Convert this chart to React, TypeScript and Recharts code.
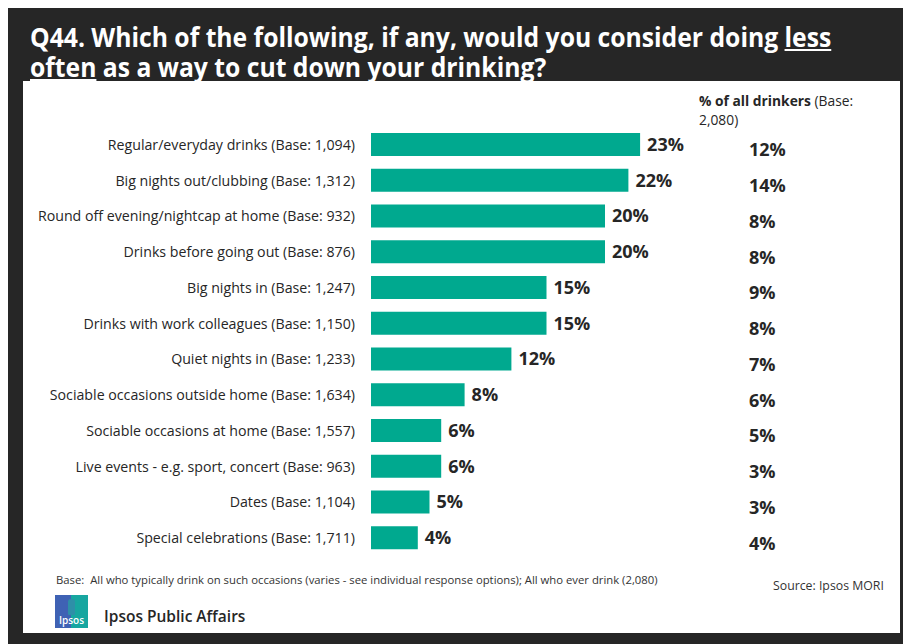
import { BarChart, Bar, XAxis, YAxis, LabelList } from "recharts";

const CATEGORIES = [
    "Regular/everyday drinks (Base: 1,094)",
    "Big nights out/clubbing (Base: 1,312)",
    "Round off evening/nightcap at home (Base: 932)",
    "Drinks before going out (Base: 876)",
    "Big nights in (Base: 1,247)",
    "Drinks with work colleagues (Base: 1,150)",
    "Quiet nights in (Base: 1,233)",
    "Sociable occasions outside home (Base: 1,634)",
    "Sociable occasions at home (Base: 1,557)",
    "Live events - e.g. sport, concert (Base: 963)",
    "Dates (Base: 1,104)",
    "Special celebrations (Base: 1,711)",
]
const LESS_OFTEN = [23, 22, 20, 20, 15, 15, 12, 8, 6, 6, 5, 4]
const ALL_DRINKERS = [12, 14, 8, 8, 9, 8, 7, 6, 5, 3, 3, 4]

const TEAL = "#00A98F"
const FONT = "'Open Sans', 'Noto Sans', sans-serif"

const data = CATEGORIES.map((name, i) => ({ name, value: LESS_OFTEN[i], all: ALL_DRINKERS[i] }))

export default function App() {
    return (
        <div style={{ position: 'fixed', left: 8, top: 8, right: 0, bottom: 0, background: '#262626', overflow: 'hidden', fontFamily: FONT }}>
            <div style={{
                position: 'absolute', left: 22, top: 14, color: '#fff', fontSize: 26, fontWeight: 700,
                lineHeight: '30px', whiteSpace: 'nowrap', transform: 'scaleX(0.95)', transformOrigin: 'left top'
            }}>
                <div>Q44. Which of the following, if any, would you consider doing <u>less</u></div>
                <div><u>often</u> as a way to cut down your drinking?</div>
            </div>
            <div style={{ position: 'absolute', left: 15, top: 73, width: 877, height: 552, background: '#fff' }}>
                <BarChart width={877} height={552} layout="vertical" data={data}
                    margin={{ top: 46, right: 0, bottom: 77, left: 0 }}>
                    <XAxis type="number" domain={[0, 30]} hide />
                    <YAxis yAxisId="left" type="category" dataKey="name" width={348}
                        axisLine={false} tickLine={false} tickMargin={10} interval={0}
                        tick={{ fontSize: 14.2, fill: '#262626', fontFamily: FONT }} />
                    <YAxis yAxisId="right" orientation="right" type="category" dataKey="name" width={178}
                        axisLine={false} tickLine={false} tickMargin={21} interval={0}
                        tickFormatter={(v: string) => `${data.find(d => d.name === v)?.all}%`}
                        tick={{ fontSize: 18, fontWeight: 700, fill: '#262626', fontFamily: FONT, dy: 5 }} />
                    <Bar yAxisId="left" dataKey="value" fill={TEAL} barSize={23} isAnimationActive={false}>
                        <LabelList dataKey="value" position="right" offset={7}
                            formatter={(v: any) => `${v}%`}
                            style={{ fontSize: 18, fontWeight: 700, fill: '#262626', fontFamily: FONT }} />
                    </Bar>
                </BarChart>
                <div style={{ position: 'absolute', left: 676, top: 10, fontSize: 13.8, lineHeight: '19px', color: '#262626', whiteSpace: 'nowrap' }}>
                    <div><b>% of all drinkers</b> (Base:</div>
                    <div>2,080)</div>
                </div>
                <div style={{ position: 'absolute', left: 33, top: 491, fontSize: 11.3, lineHeight: '15px', color: '#333', whiteSpace: 'nowrap' }}>
                    Base:&nbsp; All who typically drink on such occasions (varies - see individual response options); All who ever drink (2,080)
                </div>
                <div style={{ position: 'absolute', left: 750, top: 497, fontSize: 12.3, lineHeight: '16px', color: '#333', whiteSpace: 'nowrap' }}>
                    Source: Ipsos MORI
                </div>
                <div style={{
                    position: 'absolute', left: 32, top: 514, width: 33, height: 33,
                    background: 'linear-gradient(to right, #3F62B4 50%, #17A6A0 50%)'
                }}>
                    <div style={{ position: 'absolute', left: 13, top: 4, width: 7, height: 16, borderRadius: '3px 3px 1px 1px', background: '#2E8FA8' }} />
                    <div style={{ position: 'absolute', left: 0, bottom: 2, width: 33, textAlign: 'center', color: '#fff', fontSize: 10, fontWeight: 600, lineHeight: '11px' }}>Ipsos</div>
                </div>
                <div style={{ position: 'absolute', left: 81, top: 525, fontSize: 15.5, fontWeight: 600, lineHeight: '20px', color: '#262626', whiteSpace: 'nowrap' }}>
                    Ipsos Public Affairs
                </div>
            </div>
        </div>
    )
}
